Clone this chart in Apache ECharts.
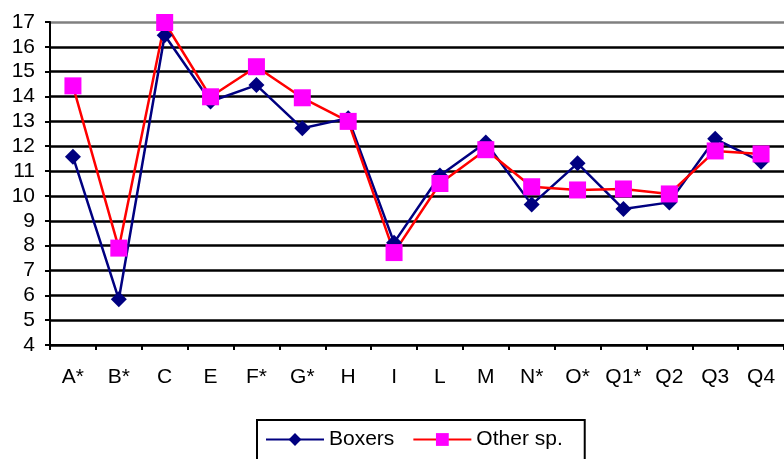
<!DOCTYPE html>
<html lang="en">
<head>
    <meta charset="UTF-8">
    <title>Boxers vs other sp.</title>
    <style>
        html, body { margin: 0; padding: 0; background: #fff; }
        #main { width: 784px; height: 459px; }
    </style>
</head>
<body>
<div id="main"></div>
<script src="https://cdn.jsdelivr.net/npm/echarts@6/dist/echarts.min.js"></script>
<script>
    // data
    const categories = ['A*', 'B*', 'C', 'E', 'F*', 'G*', 'H', 'I', 'L', 'M', 'N*', 'O*', 'Q1*', 'Q2', 'Q3', 'Q4'];
    const boxers = [11.58, 5.84, 16.47, 13.8, 14.46, 12.72, 13.13, 8.12, 10.82, 12.15, 9.65, 11.31, 9.47, 9.74, 12.3, 11.38];
    const otherSp = [14.43, 7.9, 16.98, 13.99, 15.2, 13.95, 13.0, 7.72, 10.5, 11.86, 10.37, 10.24, 10.28, 10.08, 11.81, 11.69];

    const myChart = echarts.init(document.getElementById('main'));
    const font = 'Liberation Sans, Arial, sans-serif';

    // gridline colours: black, top border grey
    const splitColors = [];
    for (let v = 4; v <= 17; v++) splitColors.push(v === 17 ? '#808080' : '#000');

    const option = {
        animation: false,
        textStyle: { fontFamily: font },
        grid: { left: 50, top: 22, right: -2, bottom: 114, containLabel: false },
        legend: {
            top: 420,
            left: 257,
            padding: [9, 22, 30, 8],
            borderColor: '#000',
            borderWidth: 2,
            itemWidth: 58,
            itemHeight: 16,
            itemGap: 18,
            textStyle: { fontSize: 21, color: '#000', fontFamily: font },
            data: ['Boxers', 'Other sp.']
        },
        xAxis: {
            type: 'category',
            data: categories,
            boundaryGap: true,
            axisLine: { lineStyle: { color: '#000', width: 2 } },
            axisTick: { show: true, length: 5, lineStyle: { color: '#000', width: 2 } },
            axisLabel: { color: '#000', fontSize: 21, margin: 22, interval: 0, fontFamily: font },
            splitLine: { show: false }
        },
        yAxis: {
            type: 'value',
            min: 4,
            max: 17,
            interval: 1,
            axisLine: { show: true, lineStyle: { color: '#000', width: 2 } },
            axisTick: { show: true, length: 5, lineStyle: { color: '#000', width: 2 } },
            axisLabel: { color: '#000', fontSize: 21, margin: 15, fontFamily: font },
            splitLine: { show: true, lineStyle: { color: splitColors, width: 2.5 } }
        },
        series: [
            {
                name: 'Boxers',
                type: 'line',
                data: boxers,
                symbol: 'diamond',
                symbolSize: 16,
                lineStyle: { color: '#000080', width: 2.5 },
                itemStyle: { color: '#000080' }
            },
            {
                name: 'Other sp.',
                type: 'line',
                data: otherSp,
                symbol: 'rect',
                symbolSize: 17,
                lineStyle: { color: '#ff0000', width: 2.5 },
                itemStyle: { color: '#ff00ff' }
            }
        ]
    };

    myChart.setOption(option);
</script>
</body>
</html>
